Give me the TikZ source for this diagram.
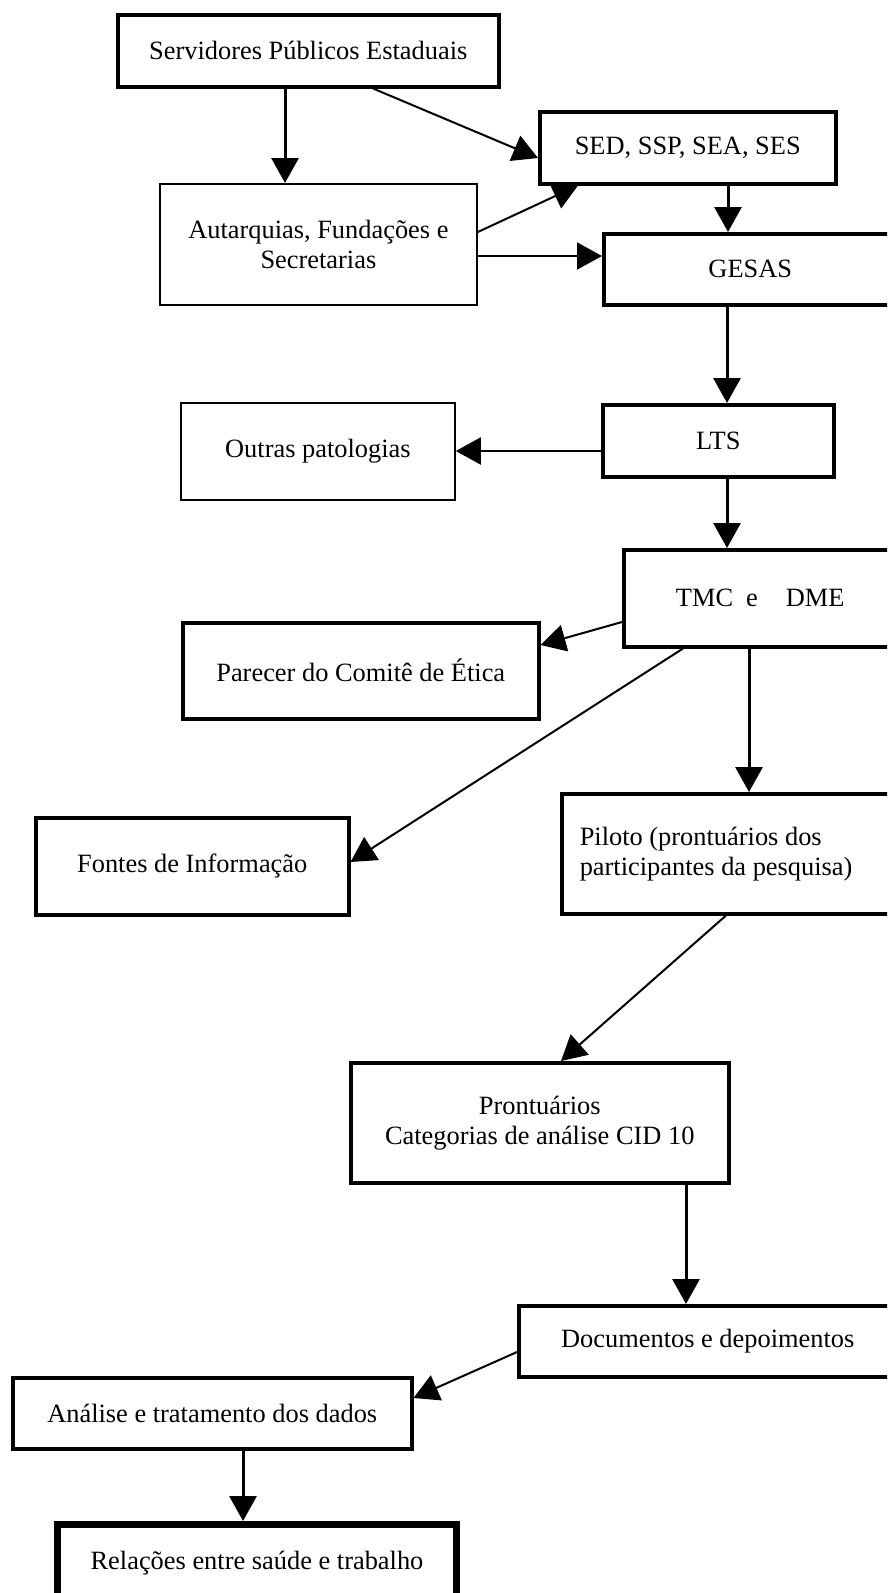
\documentclass[tikz,border=0pt]{standalone}
\usepackage{fontspec}
\setmainfont{Liberation Serif}
\usetikzlibrary{arrows.meta}
\tikzset{
  box/.style={draw=black, line width=3.5pt, fill=white, inner sep=0pt, anchor=north west, align=center,
    font=\fontsize{26.4}{30}\selectfont},
  thinbox/.style={box, line width=1.8pt},
  heavybox/.style={box, line width=7pt},
  conn/.style={line width=2pt, -{Triangle[length=25pt,width=27pt]}},
  vconn/.style={conn, line width=3pt},
}
\begin{document}
\begin{tikzpicture}[x=1pt,y=-1pt]
\useasboundingbox (0,0) rectangle (887,1593);
\clip (0,0) rectangle (887,1593);
\node[box, minimum width=381pt, minimum height=72pt] (serv) at (116,13) {Servidores Públicos Estaduais};
\node[box, minimum width=296pt, minimum height=72pt] (sed) at (538,110) {SED, SSP, SEA, SES};
\node[thinbox, minimum width=317pt, minimum height=121pt] (aut) at (159,183) {Autarquias, Fundações e\\Secretarias};
\node[box, minimum width=293pt, minimum height=71pt] (gesas) at (602,232) {GESAS};
\node[thinbox, minimum width=274pt, minimum height=97pt] (outras) at (180,402) {Outras patologias};
\node[box, minimum width=231pt, minimum height=72pt] (lts) at (601,403) {LTS};
\node[box, minimum width=273pt, minimum height=97pt] (tmc) at (622,548) {TMC\hspace{13pt}e\hspace{28pt}DME};
\node[box, minimum width=356pt, minimum height=96pt] (parecer) at (181,621) {Parecer do Comitê de Ética};
\node[box, minimum width=313pt, minimum height=97pt] (fontes) at (34,816) {Fontes de Informação};
\node[box, minimum height=120pt, inner xsep=18pt, text width=299pt, align=flush left] (piloto) at (560,792) {Piloto (prontuários dos\\participantes da pesquisa)};
\node[box, minimum width=378pt, minimum height=120pt] (pront) at (349,1061) {Prontuários\\Categorias de análise CID 10};
\node[box, minimum width=378pt, minimum height=71pt] (docs) at (517,1304) {Documentos e depoimentos};
\node[box, minimum width=399pt, minimum height=71pt] (analise) at (11,1376) {Análise e tratamento dos dados};
\node[heavybox, minimum width=399pt, minimum height=78pt] (rel) at (54,1521) {Relações entre saúde e trabalho};

\draw[vconn] (serv.south -| 285,0) -- (aut.north -| 285,0);
\draw[conn] (serv.south -| 373,0) -- (sed.west |- 0,158);
\draw[conn] (aut.east |- 0,232) -- (sed.south -| 578,0);
\draw[conn] (aut.east |- 0,256) -- (gesas.west |- 0,256);
\draw[vconn] (sed.south -| 728,0) -- (gesas.north -| 728,0);
\draw[vconn] (gesas.south -| 727,0) -- (lts.north -| 727,0);
\draw[conn] (lts.west |- 0,451) -- (outras.east |- 0,451);
\draw[vconn] (lts.south -| 727,0) -- (tmc.north -| 727,0);
\draw[conn] (tmc.west |- 0,622) -- (parecer.east |- 0,645);
\draw[conn] (tmc.south -| 683,0) -- (fontes.east |- 0,862);
\draw[vconn] (tmc.south -| 749,0) -- (piloto.north -| 749,0);
\draw[conn] (piloto.south -| 726,0) -- (pront.north -| 561,0);
\draw[vconn] (pront.south -| 686,0) -- (docs.north -| 686,0);
\draw[conn] (docs.west |- 0,1352) -- (analise.east |- 0,1398);
\draw[vconn] (analise.south -| 243,0) -- (rel.north -| 243,0);
\end{tikzpicture}
\end{document}
